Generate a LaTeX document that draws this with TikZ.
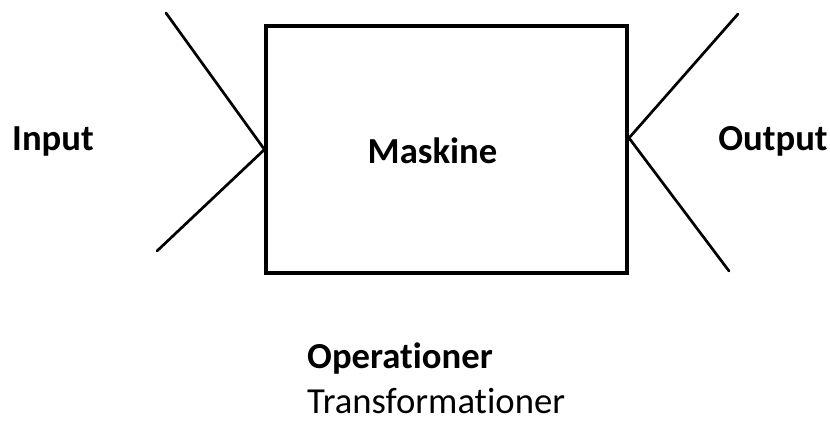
\documentclass[tikz,border=0pt]{standalone}
\usepackage{fontspec}
\setmainfont{Carlito}[Ligatures=NoCommon]
\usetikzlibrary{positioning}

\begin{document}
\begin{tikzpicture}[x=0.03cm,y=-0.03cm,
  lbl/.style={font=\fontsize{31.3}{37}\selectfont\bfseries, inner sep=0pt},
  funnel/.style={line width=2.3pt, line cap=round}]

\useasboundingbox (0,0) rectangle (830,421);

\node[draw, line width=2.6pt, inner sep=0pt,
  minimum width=10.83cm, minimum height=7.41cm] (maskine) at (446.5,149.5) {};
\node[lbl, anchor=base] (maskinetxt) at (432.5,163) {Maskine};

% indgang
\coordinate (inA) at (166,13);
\coordinate (inB) at (157,251);
\draw[funnel] (inA) -- (maskine.west) -- (inB);
\node[lbl, anchor=base] (input) at (53,150) {Input};

% udgang
\coordinate (outJ) at (629,138);
\coordinate (outA) at (738,14);
\coordinate (outB) at (729,271);
\draw[funnel] (outA) -- (outJ) -- (outB);
\node[lbl, anchor=base] (output) at (773,150) {Output};

\node[lbl, anchor=base west] (oper) at (307,368) {Operationer};
\node[lbl, anchor=base west, font=\fontsize{31.3}{37}\selectfont] (trans) at (307,413) {Transformationer};

\end{tikzpicture}
\end{document}
